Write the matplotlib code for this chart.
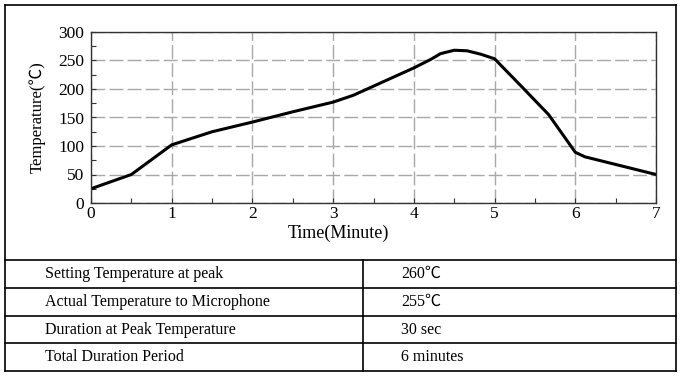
import matplotlib
matplotlib.use('Agg')
import matplotlib.pyplot as plt
from matplotlib.lines import Line2D
from matplotlib.ticker import MultipleLocator

# reflow profile
times = [0, 0.5, 1.0, 1.5, 2.0, 2.5, 3.0, 3.25, 4.0, 4.21, 4.33, 4.5, 4.66, 4.83, 5.0, 5.33, 5.67, 6.0, 6.12, 7.0]
temps = [25, 50, 102, 125, 142, 160, 177, 189, 237, 252, 262, 268, 267, 261, 253, 205, 155, 89, 81, 50]

row_labels = ['Setting Temperature at peak', 'Actual Temperature to Microphone',
              'Duration at Peak Temperature', 'Total Duration Period']
row_values = ['260\u2103', '255\u2103', '30 sec', '6 minutes']

W, H = 683, 377
serif = ['Liberation Serif', 'Noto Sans CJK SC', 'DejaVu Serif']
plt.rcParams['font.family'] = serif

fig = plt.figure(figsize=(W / 100, H / 100), dpi=100)

def fx(px):
    return px / W

def fy(py):
    return 1 - py / H

ax = fig.add_axes([fx(91), fy(203), fx(656) - fx(91), fy(32) - fy(203)])
ax.plot(times, temps, color='black', lw=2.2, solid_joinstyle='round')
ax.set_xlim(0, 7)
ax.set_ylim(0, 300)
ax.xaxis.set_major_locator(MultipleLocator(1))
ax.xaxis.set_minor_locator(MultipleLocator(0.5))
ax.yaxis.set_major_locator(MultipleLocator(50))
ax.yaxis.set_minor_locator(MultipleLocator(25))
ax.tick_params(which='both', direction='in', length=3.5, width=0.8, color='#333333',
               labelsize=12.5, pad=2)
ax.tick_params(axis='y', which='both', pad=5)
ax.grid(True, which='major', color='#a8a8a8', lw=1.0, linestyle=(0, (10, 3)))
for s in ax.spines.values():
    s.set_color('#333333')
    s.set_linewidth(1.0)

ax.text(0.437, -0.175, 'Time(Minute)', transform=ax.transAxes, ha='center', va='center',
        fontsize=13)
ax.text(-0.094, 0.5, 'Temperature(\u2103)', transform=ax.transAxes, ha='center', va='center',
        rotation=90, fontsize=12)

# outer frame and table
def hline(y, x0=4.5, x1=676):
    fig.add_artist(Line2D([fx(x0), fx(x1)], [fy(y), fy(y)], color='black', lw=1.2))

def vline(x, y0, y1):
    fig.add_artist(Line2D([fx(x), fx(x)], [fy(y0), fy(y1)], color='black', lw=1.2))

hline(4.5)
vline(4.5, 4.5, 371)
vline(676, 4.5, 371)
row_edges = [260, 288, 316, 343, 371]
for y in row_edges:
    hline(y)
vline(363, 260, 371)

for i in range(len(row_labels)):
    yc = (row_edges[i] + row_edges[i + 1]) / 2
    fig.text(fx(45), fy(yc), row_labels[i], ha='left', va='center', fontsize=11.5)
    fig.text(fx(401), fy(yc), row_values[i], ha='left', va='center', fontsize=11.5)

fig.savefig('out.png', dpi=100)
